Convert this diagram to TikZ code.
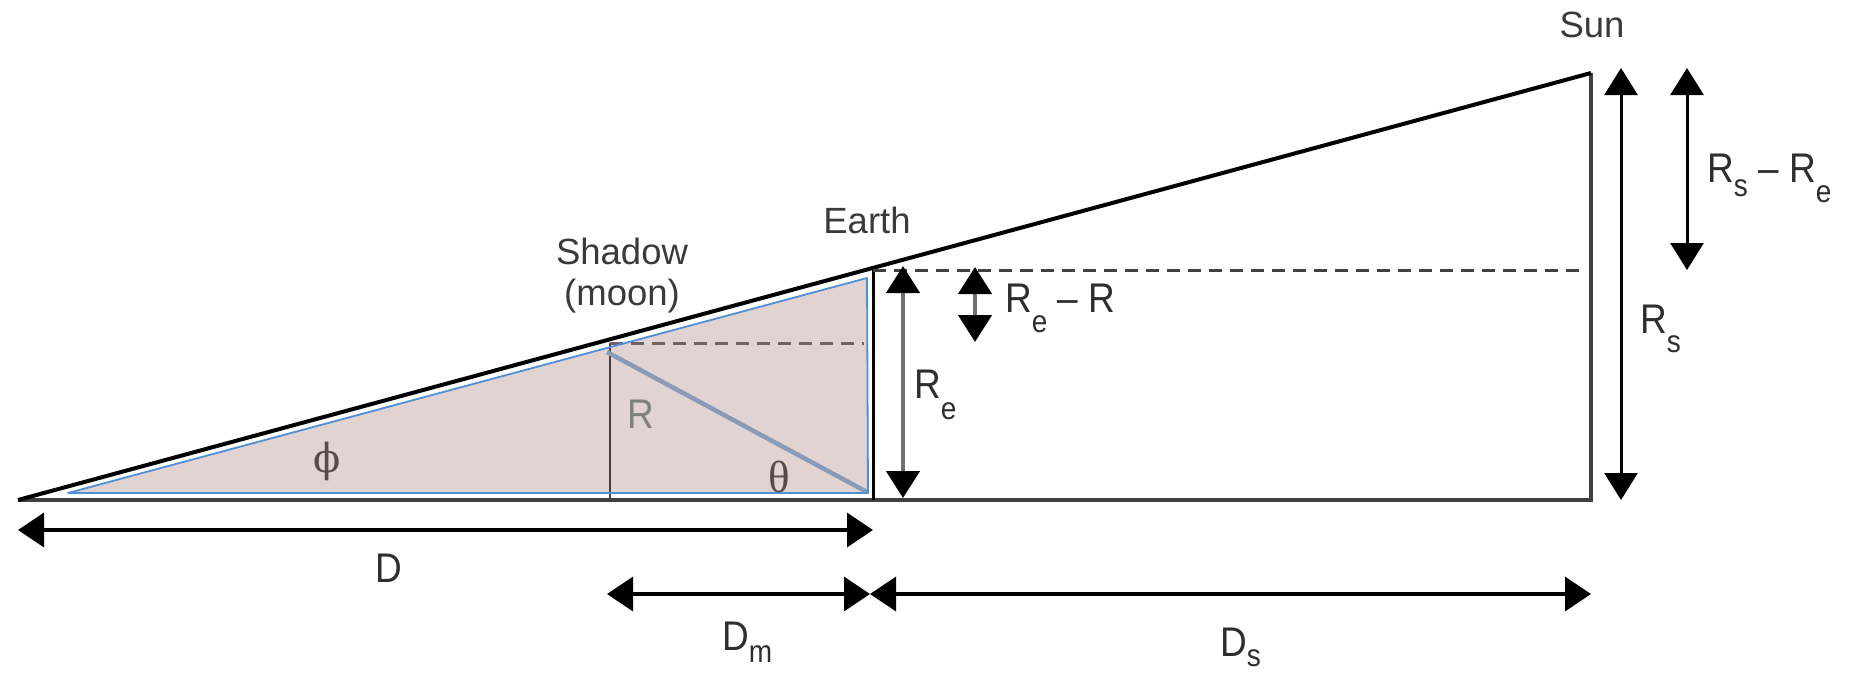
\documentclass[tikz,border=0pt]{standalone}
\usepackage{fontspec}
\setmainfont{Liberation Sans}
\newfontfamily\phifont{DejaVu Serif}
\newfontfamily\thetafont{Liberation Serif}
\usepackage{graphicx}
\usetikzlibrary{arrows.meta}
\definecolor{pinkfill}{HTML}{E2D3D3}
\definecolor{blueline}{HTML}{4F8FD6}
\definecolor{thetaline}{HTML}{8A9BB7}
\definecolor{txtgray}{HTML}{3A3A3A}
\definecolor{dimtext}{HTML}{2E2E2E}
\definecolor{brownline}{HTML}{4A3E3E}
\definecolor{dashbrown}{HTML}{6E6262}
\definecolor{greekcol}{HTML}{5A4A4A}
\definecolor{shaftgray}{HTML}{707070}
\definecolor{edgegray}{HTML}{404040}
\definecolor{rgray}{HTML}{808080}
\newcommand{\lbsub}[2][16]{\raisebox{-#1pt}{\fontsize{28}{28}\selectfont #2}}
\newcommand{\dimtxt}[1]{\scalebox{1}[1.12]{#1}}
\begin{document}
\begin{tikzpicture}[x=1pt,y=-1pt,
  namelabel/.style={font=\fontsize{36.5}{41}\selectfont, text=txtgray, inner sep=0pt, align=center},
  dimlabel/.style={font=\fontsize{37}{44}\selectfont, text=dimtext, inner sep=0pt, anchor=base west},
  greeklabel/.style={text=greekcol, inner sep=0pt},
  vgarrow/.style={line width=4.5pt, draw=shaftgray, {Triangle[length=27pt,width=33pt,color=black]}-{Triangle[length=27pt,width=33pt,color=black]}},
  vbarrow/.style={line width=3pt, draw=black, {Triangle[length=27pt,width=33pt]}-{Triangle[length=27pt,width=33pt]}},
  harrow/.style={line width=3.5pt, draw=black, {Triangle[length=26pt,width=34pt]}-{Triangle[length=26pt,width=34pt]}},
  dashline/.style={line width=3pt, dash pattern=on 13pt off 8pt}
]
\useasboundingbox (0,0) rectangle (1858,675);
% key points
\coordinate (tip) at (18,500);
\coordinate (sunT) at (1591,73);
\coordinate (sunB) at (1591,500);
\coordinate (earthT) at (873,270);
\coordinate (earthB) at (873,500);
\coordinate (shT) at (610,343);
\coordinate (shB) at (610,500);
\coordinate (dashE) at (1586,270);
\coordinate (dashS) at (864,343);
\coordinate (b1) at (68,493);
\coordinate (b2) at (867,278);
\coordinate (b3) at (868,493);
\coordinate (th1) at (607,352);
\coordinate (th2) at (867,492);
% shaded triangle
\fill[pinkfill] (b1) -- (b2) -- (b3) -- cycle;
\draw[line width=2.5pt, brownline] (shT) -- (shB);
\draw[dashline, dashbrown] (shT) -- (dashS);
\draw[line width=4.5pt, thetaline] (th1) -- (th2);
\draw[line width=1.8pt, blueline, line join=round] (b1) -- (b2) -- (b3) -- cycle;
% main triangle
\draw[line width=4pt, edgegray] (tip) -- (sunB) -- (sunT);
\draw[line width=4pt, black] (tip) -- (sunT);
\draw[line width=3pt, black] (earthT) -- (earthB);
\draw[dashline, edgegray] (earthT) -- (dashE);
% vertical dimension arrows
\coordinate (ReB) at (903,498);
\coordinate (ReT) at (903,266);
\draw[vgarrow] (ReB) -- (ReT);
\coordinate (ReRT) at (975,267);
\coordinate (ReRB) at (975,342);
\draw[vgarrow] (ReRT) -- (ReRB);
\coordinate (RsT) at (1621,68);
\coordinate (RsB) at (1621,500);
\draw[vbarrow] (RsT) -- (RsB);
\coordinate (RsReT) at (1687,68);
\coordinate (RsReB) at (1687,270);
\draw[vbarrow] (RsReT) -- (RsReB);
% horizontal dimension arrows
\coordinate (DL) at (18,530);
\coordinate (DR) at (873,530);
\draw[harrow] (DL) -- (DR);
\coordinate (DmL) at (607,594);
\coordinate (DmR) at (870,594);
\draw[harrow] (DmL) -- (DmR);
\coordinate (DsR) at (1591,594);
\draw[harrow] (DmR) -- (DsR);
% name labels
\node[namelabel, anchor=base] (sun) at (1592,37) {Sun};
\node[namelabel, anchor=base] (earth) at (867,233) {Earth};
\node[namelabel, anchor=north] (shadow) at (622,238) {Shadow\\(moon)};
% dimension labels
\node[dimlabel] (lRe) at (914,398) {\dimtxt{R\lbsub[19]{e}}};
\node[dimlabel] (lReR) at (1005,312) {\dimtxt{R\lbsub[18]{e} – R}};
\node[dimlabel] (lRsRe) at (1707,182) {\dimtxt{R\lbsub[13]{s} – R\lbsub[18]{e}}};
\node[dimlabel] (lRs) at (1640,333) {\dimtxt{R\lbsub[17]{s}}};
\node[dimlabel, text=rgray] (lR) at (627,428) {\dimtxt{R}};
\node[dimlabel] (lD) at (375,582) {\dimtxt{D}};
\node[dimlabel] (lDm) at (722,650) {\dimtxt{D\lbsub[11]{m}}};
\node[dimlabel] (lDs) at (1220,656) {\dimtxt{D\lbsub[9]{s}}};
% angles
\node[greeklabel, font=\phifont\fontsize{40}{40}\selectfont] (phi) at (327,461) {ϕ};
\node[greeklabel, font=\thetafont\fontsize{45}{45}\selectfont] (theta) at (779,477) {θ};
\end{tikzpicture}
\end{document}
